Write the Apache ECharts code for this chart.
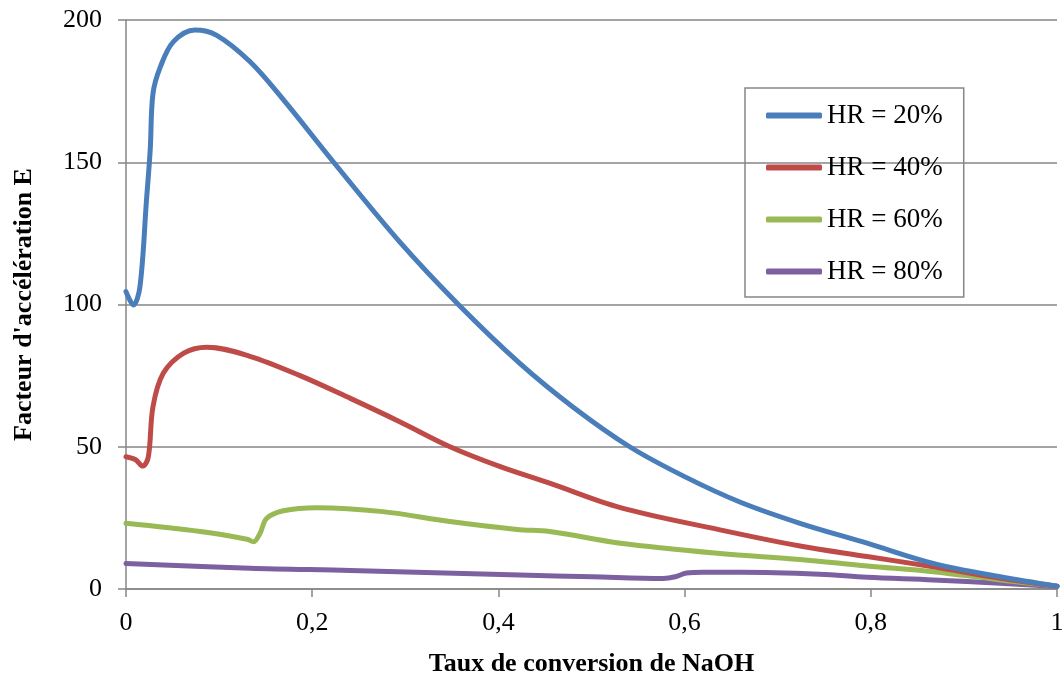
<!DOCTYPE html>
<html>
<head>
<meta charset="utf-8">
<script src="https://cdn.jsdelivr.net/npm/echarts@6/dist/echarts.min.js"></script>
<style>html,body{margin:0;padding:0;background:#fff}#chart{width:1064px;height:677px}</style>
</head>
<body>
<div id="chart"></div>
<script>
const seriesNames = ['HR = 20%', 'HR = 40%', 'HR = 60%', 'HR = 80%'];

const x20 = [0, 0.008, 0.015, 0.022, 0.026, 0.029, 0.037, 0.051, 0.074, 0.097, 0.133, 0.169, 0.223, 0.294, 0.357, 0.423, 0.480, 0.541, 0.600, 0.660, 0.724, 0.796, 0.867, 0.939, 1.0];
const y20 = [104.5, 99.8, 106.3, 136.7, 154.3, 174.2, 183.6, 192.4, 196.5, 194.7, 185.4, 172.0, 150, 122.0, 100, 79.3, 64.0, 50.0, 39.5, 30.5, 23.1, 16.1, 9.0, 4.3, 1.0];

const x40 = [0, 0.010, 0.018, 0.024, 0.029, 0.040, 0.062, 0.087, 0.133, 0.187, 0.241, 0.294, 0.348, 0.402, 0.455, 0.531, 0.638, 0.724, 0.796, 0.867, 0.939, 1.0];
const y40 = [46.5, 45.5, 43.2, 46.5, 64.1, 75.8, 82.9, 85.0, 81.8, 75.0, 67.0, 58.8, 50.0, 43.0, 37.2, 28.6, 20.8, 15.1, 11.4, 7.8, 3.8, 1.0];

const x60 = [0, 0.08, 0.13, 0.137, 0.144, 0.151, 0.169, 0.205, 0.276, 0.348, 0.42, 0.455, 0.531, 0.638, 0.724, 0.796, 0.867, 0.939, 1.0];
const y60 = [23.1, 20.2, 17.5, 16.6, 19.6, 24.8, 27.5, 28.6, 27.2, 23.7, 20.9, 20.2, 16.1, 12.5, 10.4, 8.1, 6.1, 3.2, 1.0];

const x80 = [0, 0.133, 0.241, 0.423, 0.5, 0.577, 0.59, 0.602, 0.62, 0.66, 0.745, 0.796, 0.867, 0.939, 1.0];
const y80 = [9.0, 7.3, 6.5, 4.9, 4.3, 3.7, 4.3, 5.6, 5.9, 5.9, 5.2, 4.1, 3.2, 2.0, 0.9];

const xTicks = [0, 0.2, 0.4, 0.6, 0.8, 1];
const yTicks = [0, 50, 100, 150, 200];

const colors = ['#4A7EBB', '#BE4B48', '#98B954', '#7D60A0'];
const xs = [x20, x40, x60, x80];
const ys = [y20, y40, y60, y80];

const FONT = '"Liberation Serif", "DejaVu Serif", serif';
const chart = echarts.init(document.getElementById('chart'), null, {renderer: 'canvas'});

const series = seriesNames.map((name, i) => ({
  name: name,
  type: 'line',
  data: xs[i].map((x, j) => [x, ys[i][j]]),
  smooth: 0.35,
  symbol: 'none',
  lineStyle: {width: 5, color: colors[i], cap: 'round', join: 'round'},
  itemStyle: {color: colors[i]},
  z: 10 - i
}));

chart.setOption({
  animation: false,
  backgroundColor: '#fff',
  grid: {left: 126, right: 7, top: 20, bottom: 88, containLabel: false, outerBoundsMode: 'none'},
  legend: {
    orient: 'vertical',
    left: 745, top: 88,
    padding: [14, 21, 12, 21],
    itemGap: 25,
    icon: 'roundRect',
    itemWidth: 56, itemHeight: 6,
    borderColor: '#868686', borderWidth: 1.5,
    textStyle: {fontFamily: FONT, fontSize: 27, color: '#000'},
    data: seriesNames
  },
  xAxis: {
    type: 'value', min: 0, max: 1, interval: 0.2,
    name: 'Taux de conversion de NaOH',
    nameLocation: 'middle', nameGap: 62,
    nameTextStyle: {fontFamily: FONT, fontSize: 26, fontWeight: 'bold', color: '#000'},
    axisLine: {show: true, lineStyle: {color: '#868686', width: 1.5}},
    axisTick: {show: true, length: 8, lineStyle: {color: '#868686', width: 1.5}},
    splitLine: {show: false},
    axisLabel: {
      fontFamily: FONT, fontSize: 26, color: '#000', margin: 21,
      formatter: v => xTicks.includes(Math.round(v * 10) / 10) ? String(Math.round(v * 10) / 10).replace('.', ',') : ''
    }
  },
  yAxis: {
    type: 'value', min: 0, max: 200, interval: 50,
    name: "Facteur d'accélération E",
    nameLocation: 'middle', nameGap: 89, nameRotate: 90,
    nameTextStyle: {fontFamily: FONT, fontSize: 26, fontWeight: 'bold', color: '#000'},
    axisLine: {show: true, lineStyle: {color: '#868686', width: 1.5}},
    axisTick: {show: true, length: 8, lineStyle: {color: '#868686', width: 1.5}},
    splitLine: {show: true, lineStyle: {color: '#868686', width: 1.5}},
    axisLabel: {
      fontFamily: FONT, fontSize: 26, color: '#000', margin: 24,
      formatter: v => yTicks.includes(v) ? String(v) : ''
    }
  },
  series: series
});
</script>
</body>
</html>
